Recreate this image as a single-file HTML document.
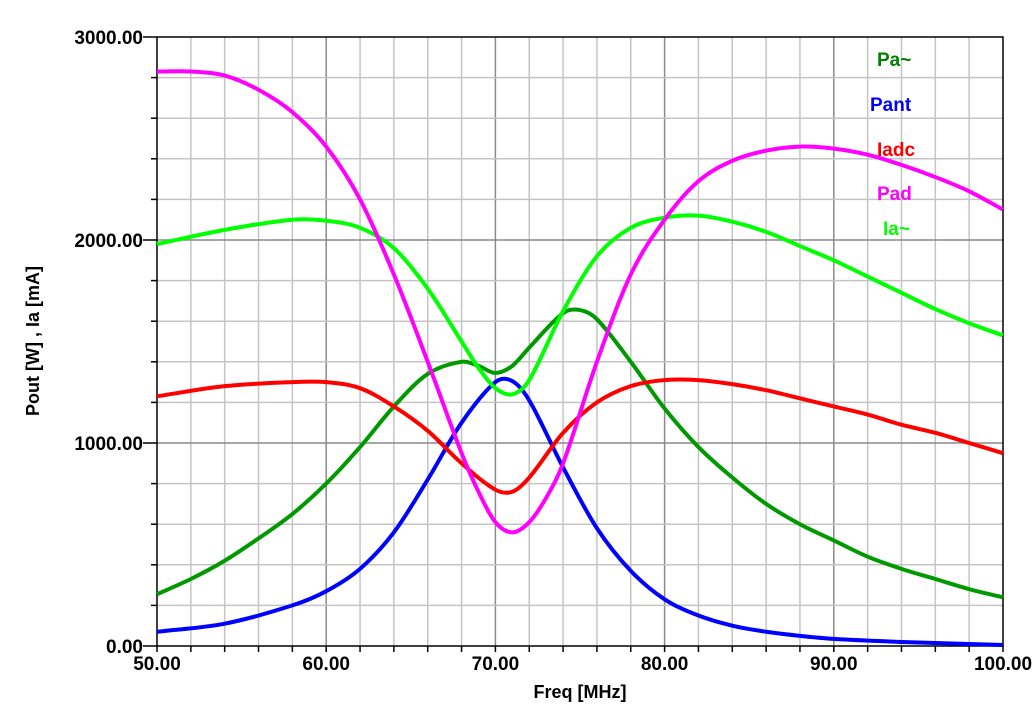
<!DOCTYPE html>
<html><head><meta charset="utf-8"><style>
body{margin:0;background:#fff;}
svg{display:block;font-family:"Liberation Sans",Arial,sans-serif;font-weight:bold;}
</style></head><body>
<svg id="chart" width="1035" height="716" xmlns="http://www.w3.org/2000/svg">
<g id="grid"></g>
<g id="axes"></g>
<g id="series"></g>
<g id="legend"></g>
</svg>
<script>
const xTicks=[50,60,70,80,90,100];
const yTicks=[0,1000,2000,3000];
const freqPad=[50,52,54,56,58,60,62,64,66,68,69,70,71,72,73,74,76,78,80,82,84,86,88,90,92,94,96,98,100];
const valPad=[2830,2830,2810,2740,2630,2460,2200,1830,1400,950,760,610,560,610,730,900,1400,1830,2100,2290,2390,2440,2460,2450,2420,2370,2310,2240,2150];
const freqIa=[50,54,58,60,62,64,66,68,69,70,71,72,74,76,78,80,82,84,86,88,90,92,94,96,98,100];
const valIa=[1980,2050,2100,2095,2060,1960,1760,1500,1370,1270,1240,1310,1650,1920,2060,2110,2120,2090,2040,1970,1900,1820,1740,1660,1590,1530];
const freqPa=[50,52,54,56,58,60,62,64,66,68,69,70,71,72,74,75,76,78,80,82,84,86,88,90,92,94,96,98,100];
const valPa=[255,330,420,530,650,800,980,1180,1340,1400,1380,1345,1380,1470,1640,1655,1610,1400,1170,980,830,700,600,520,440,380,330,280,240];
const freqPant=[50,54,58,60,62,64,66,68,70,71,72,74,76,78,80,82,84,86,88,90,94,100];
const valPant=[70,110,200,270,380,560,820,1100,1300,1305,1210,880,580,370,230,150,100,70,50,35,20,5];
const freqIadc=[50,54,58,60,62,64,66,68,70,71,72,74,76,78,80,82,84,86,88,90,92,94,96,98,100];
const valIadc=[1230,1280,1300,1300,1270,1180,1060,900,770,760,830,1050,1200,1280,1310,1310,1290,1260,1220,1180,1140,1090,1050,1000,950];
const legendNames=["Pa~","Pant","Iadc","Pad","Ia~"];

const X0=157,X1=1003,Y0=646,Y1=37;
const sx=f=>X0+(f-50)/50*(X1-X0);
const sy=v=>Y0-v/3000*(Y0-Y1);
const NS="http://www.w3.org/2000/svg";
function mk(tag,parent,attrs){const e=document.createElementNS(NS,tag);for(const k in attrs)e.setAttribute(k,attrs[k]);parent.appendChild(e);return e;}
const grid=document.getElementById('grid'),axes=document.getElementById('axes'),series=document.getElementById('series'),legend=document.getElementById('legend');
for(let f=52;f<100;f+=2){const l=mk('line',grid,{x1:sx(f),x2:sx(f),y1:Y1,y2:Y0,stroke:f%10===0?'#8a8a8a':'#c4c4c4','stroke-width':1.5});

}
for(let v=200;v<3000;v+=200){const l=mk('line',grid,{x1:X0,x2:X1,y1:sy(v),y2:sy(v),stroke:v%1000===0?'#8a8a8a':'#c4c4c4','stroke-width':1.5});

}
const frame=mk('path',axes,{d:`M${X0},${Y1}H${X1}V${Y0}H${X0}Z`,fill:'none',stroke:'#000','stroke-width':1.5});


for(let f=50;f<=100;f+=2){const t=mk('line',axes,{x1:sx(f),x2:sx(f),y1:Y0,y2:Y0+6,stroke:'#000','stroke-width':1.5});

}
for(let v=0;v<=3000;v+=200){const t=mk('line',axes,{x1:X0-(v%1000===0?14:6),x2:X0,y1:sy(v),y2:sy(v),stroke:'#000','stroke-width':1.5});

}
xTicks.forEach(f=>{const t=mk('text',axes,{x:sx(f),y:670,'text-anchor':'middle','font-size':19});t.textContent=f.toFixed(2);

});
yTicks.forEach(v=>{const t=mk('text',axes,{x:143,y:sy(v)+7,'text-anchor':'end','font-size':19});t.textContent=v.toFixed(2);

});
const xt=mk('text',axes,{x:580,y:698,'text-anchor':'middle','font-size':18});xt.textContent='Freq [MHz]';


const yt=mk('text',axes,{x:0,y:0,'text-anchor':'middle','font-size':18,transform:'translate(39,341) rotate(-90)'});yt.textContent='Pout [W] , Ia [mA]';


function smooth(fs,vs){const n=fs.length;const m=fs.map((f,i)=>{const a=Math.max(0,i-1),b=Math.min(n-1,i+1);return (vs[b]-vs[a])/(fs[b]-fs[a]);});
let d=`M${sx(fs[0])},${sy(vs[0])}`;
for(let i=0;i<n-1;i++){const h=fs[i+1]-fs[i];
d+=`C${sx(fs[i]+h/3)},${sy(vs[i]+m[i]*h/3)} ${sx(fs[i+1]-h/3)},${sy(vs[i+1]-m[i+1]*h/3)} ${sx(fs[i+1])},${sy(vs[i+1])}`;}return d;}
const defs=[[freqPa,valPa,'#009900','series-pa'],[freqPant,valPant,'#0000ff','series-pant'],[freqIadc,valIadc,'#ff0000','series-iadc'],[freqIa,valIa,'#00ff00','series-ia'],[freqPad,valPad,'#ff00ff','series-pad']];
defs.forEach(([f,v,c,n])=>{const p=mk('path',series,{d:smooth(f,v),fill:'none',stroke:c,'stroke-width':4,'stroke-linejoin':'round'});

});
const legCols=['#008000','#0000ff','#ff0000','#ff00ff','#00ff00'];
const legX=[877,870,877,877,883],legY=[66,111,156,200,235];
legendNames.forEach((n,i)=>{const t=mk('text',legend,{x:legX[i],y:legY[i],'font-size':19,fill:legCols[i]});t.textContent=n;

});
</script>
</body></html>
